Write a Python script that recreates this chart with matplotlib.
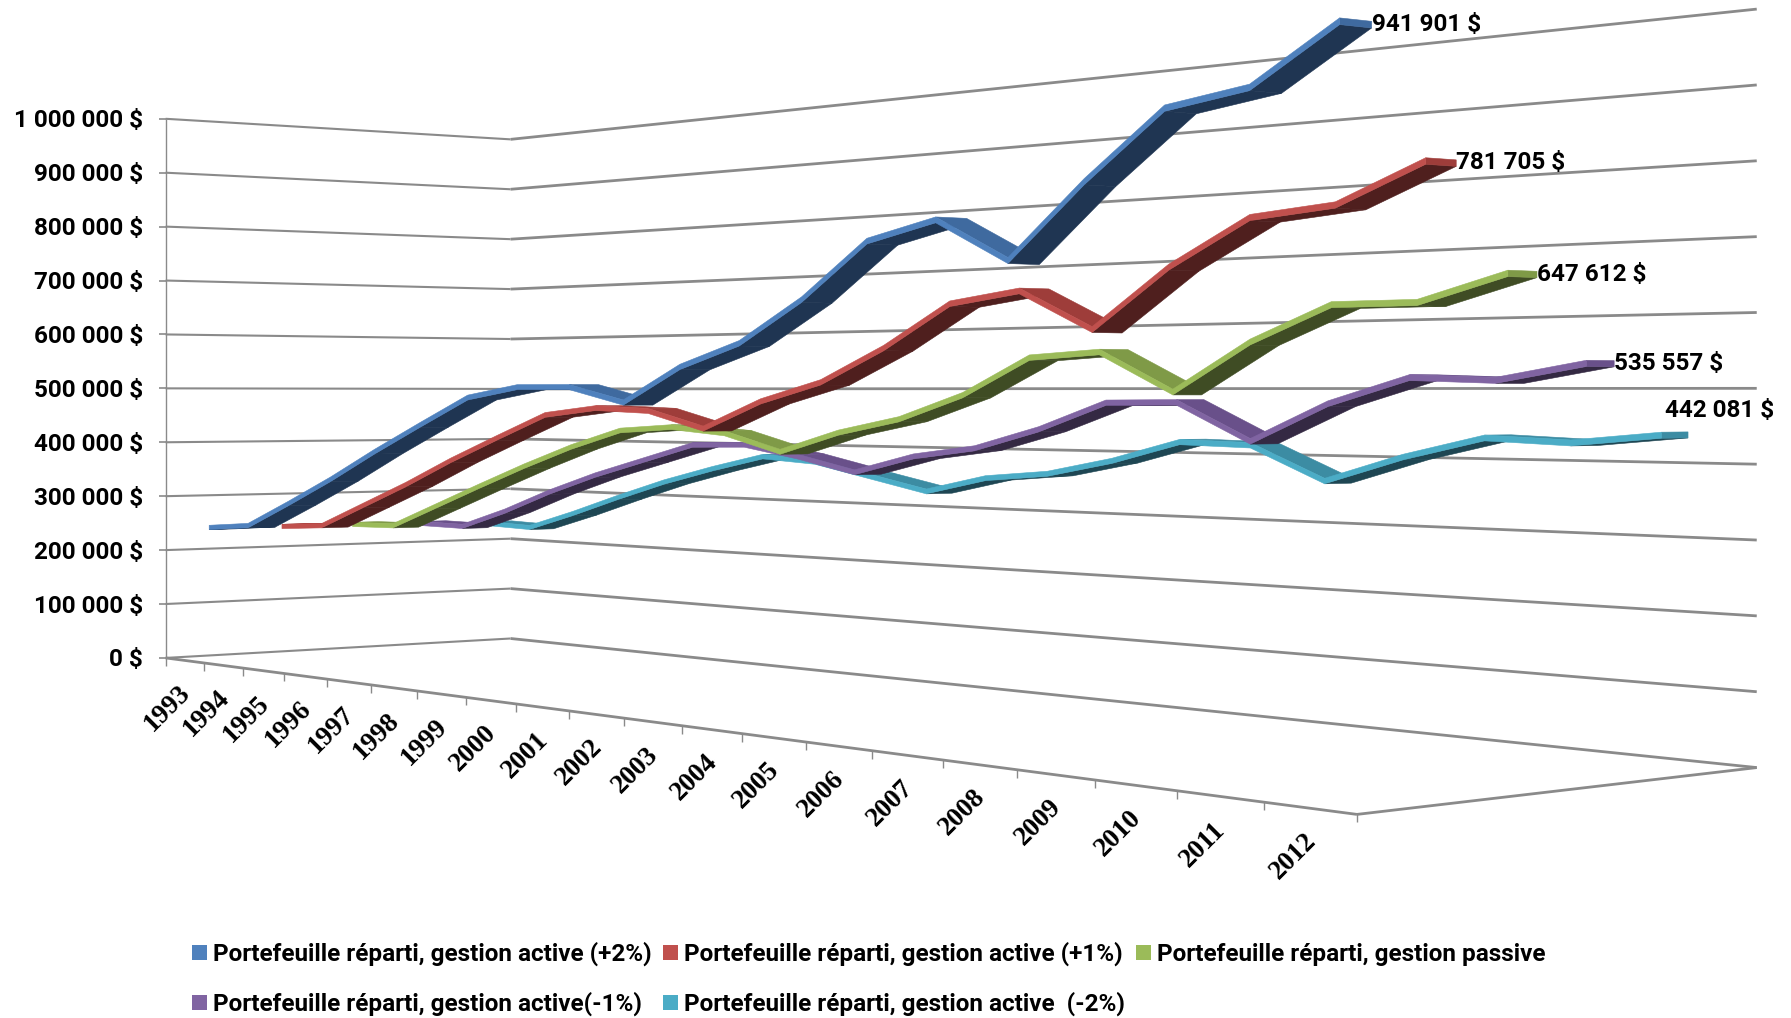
import numpy as np
import matplotlib
matplotlib.use('Agg')
import matplotlib.pyplot as plt
from matplotlib.patches import Patch

years = list(range(1993, 2013))
series_names = ['Portefeuille réparti, gestion active (+2%)',
                'Portefeuille réparti, gestion active (+1%)',
                'Portefeuille réparti, gestion passive',
                'Portefeuille réparti, gestion active(-1%)',
                'Portefeuille réparti, gestion active  (-2%)']
active_p2 = [247, 255, 299, 345, 395, 442, 488, 505, 505, 481, 535, 569, 630, 709, 733, 673, 771, 857, 873, 941.901]
active_p1 = [245, 251, 292, 333, 378, 419, 459, 471, 467, 440, 483, 512, 562, 624, 639, 583, 664, 724, 734, 781.705]
passive = [245, 247, 287, 327, 366, 402, 432, 439, 430, 402, 434, 456, 493, 548, 555, 498, 566, 614, 614, 647.612]
active_m1 = [243, 242, 275, 314, 348, 377, 406, 408, 390, 367, 395, 410, 441, 482, 483, 428, 482, 518, 514, 535.557]
active_m2 = [239, 236, 267, 301, 333, 360, 384, 377, 355, 333, 358, 368, 391, 422, 419, 369, 406, 435, 430, 442.081]
all_series = [active_p2, active_p1, passive, active_m1, active_m2]
end_labels = ['941 901 $', '781 705 $', '647 612 $', '535 557 $', '442 081 $']
y_ticks = list(range(0, 1000001, 100000))
y_tick_labels = ['0 $', '100 000 $', '200 000 $', '300 000 $', '400 000 $', '500 000 $',
                 '600 000 $', '700 000 $', '800 000 $', '900 000 $', '1 000 000 $']

edge_cols = ['#4F81BD', '#C0504D', '#9BBB59', '#8064A2', '#4BACC6']
under_cols = ['#1F3552', '#4F1F1E', '#3F4C24', '#342943', '#1E4653']
over_cols = ['#3F6A9F', '#9E3D3A', '#7F9A47', '#69508A', '#3C8CA3']
label_offs = [(0, 3), (0, 3), (0, 3), (0, 3), (-23, -21)]

# perspective of the 3-D box: u along years, d along series, v = value in thousands
S = 1791 / 1568
WI, WJ = -0.375, 0.0763
A_ = 1188 * (1 + WI) - 145
B_ = 447 * (1 + WJ) - 145
E_ = 713 * (1 + WI) - 576
F_ = 559 * (1 + WJ) - 576


def proj(u, d, v):
    w = 1 + WI * u + WJ * d
    x = S * (A_ * u + B_ * d + 145) / w
    y = S * (E_ * u + F_ * d + 576) / w
    h = S * 472 / (1 - 0.3693 * u + 0.0801 * d)
    return x, y - h * v / 1000


fig = plt.figure(figsize=(17.91, 10.18), dpi=100, facecolor='white')
ax = fig.add_axes([0, 0, 1, 1])
ax.set_xlim(0, 1791)
ax.set_ylim(1018, 0)
ax.axis('off')

GRID = '#8A8A8A'
FONT = ['Roboto', 'DejaVu Sans']
FS = 17.5


def seg(p, q, lw=1.7, col=GRID):
    ax.plot([p[0], q[0]], [p[1], q[1]], color=col, lw=lw, solid_capstyle='butt', zorder=1)


for t in y_ticks:
    v = t / 1000
    seg(proj(0, 0, v), proj(0, 1, v), lw=1.5)
    seg(proj(0, 1, v), proj(1, 1, v), lw=2.0)
    x0, y0 = proj(0, 0, v)
    seg((x0 - 7, y0), (x0, y0), lw=1.2)
    ax.text(143, y0 + 2, y_tick_labels[y_ticks.index(t)], ha='right', va='center',
            fontsize=FS, fontweight='bold', family=FONT)
seg(proj(0, 0, 0), proj(0, 0, 1000), lw=1.0)
seg(proj(0, 0, 0), proj(1, 0, 0), lw=2.0)
seg(proj(1, 0, 0), proj(1, 1, 0), lw=2.0)

for n in range(21):
    x, y = proj(n / 20, 0, 0)
    seg((x, y), (x, y + 8), lw=1.0)
for n, yr in enumerate(years):
    x, y = proj((n + .5) / 20, 0, 0)
    ax.text(x - 17, y + 48, str(yr), rotation=45, rotation_mode='default', ha='center', va='center',
            fontsize=19.5, fontweight='bold', family='Liberation Serif')

THICK = 8.0
DFRONT, DBAND, DSTEP = 0.0667, 0.0733, 0.2
for s in range(4, -1, -1):
    vals = all_series[s]
    d0 = DFRONT + DSTEP * s
    d1 = d0 + DBAND
    us = (np.arange(len(vals)) + .5) / len(vals)
    for k in range(len(vals) - 1):
        a = proj(us[k], d0, vals[k])
        b = proj(us[k + 1], d0, vals[k + 1])
        c = proj(us[k + 1], d1, vals[k + 1])
        e = proj(us[k], d1, vals[k])
        P = np.array([a, b, c, e])
        area = 0.5 * np.sum(P[:, 0] * np.roll(P[:, 1], -1) - np.roll(P[:, 0], -1) * P[:, 1])
        if area > 0:
            # underside of the solid ribbon, seen from below
            P = np.array([proj(us[k], d0, vals[k] - THICK), proj(us[k + 1], d0, vals[k + 1] - THICK),
                          proj(us[k + 1], d1, vals[k + 1] - THICK), proj(us[k], d1, vals[k] - THICK)])
            col = under_cols[s]
        else:
            col = over_cols[s]
        ax.fill(P[:, 0], P[:, 1], color=col, lw=0.4, zorder=3 + (4 - s) * 2)
    # end cap of the ribbon
    a = proj(us[-1], d0, vals[-1])
    c = proj(us[-1], d1, vals[-1])
    c2 = proj(us[-1], d1, vals[-1] - THICK)
    a2 = proj(us[-1], d0, vals[-1] - THICK)
    cap = np.array([a, c, c2, a2])
    ax.fill(cap[:, 0], cap[:, 1], color=over_cols[s], lw=0.4, zorder=3 + (4 - s) * 2)
    # light front edge of the ribbon
    top = np.array([proj(u, d0, v) for u, v in zip(us, vals)])
    bot = np.array([proj(u, d0, v - THICK) for u, v in zip(us, vals)])
    poly = np.vstack([top, bot[::-1]])
    ax.fill(poly[:, 0], poly[:, 1], color=edge_cols[s], lw=0.4, zorder=4 + (4 - s) * 2)
    ax.annotate(end_labels[s], xy=c, xytext=(label_offs[s][0] * 0.72, label_offs[s][1] * -0.72),
                textcoords='offset points', ha='left', va='center', fontsize=FS, fontweight='bold',
                family=FONT, zorder=20, annotation_clip=False)

order = [0, 3, 1, 4, 2]
handles = [Patch(facecolor=edge_cols[i], edgecolor='none') for i in order]
labels = [series_names[i] for i in order]
leg = fig.legend(handles, labels, ncol=3, loc='upper left', bbox_to_anchor=(192 / 1791, 1 - 942 / 1018),
                 frameon=False, borderpad=0, borderaxespad=0, handlelength=0.62, handleheight=0.62,
                 handletextpad=0.25, columnspacing=0.45, labelspacing=1.05,
                 prop={'family': FONT, 'weight': 'bold', 'size': FS})

fig.savefig('out.png', dpi=100, facecolor='white')
